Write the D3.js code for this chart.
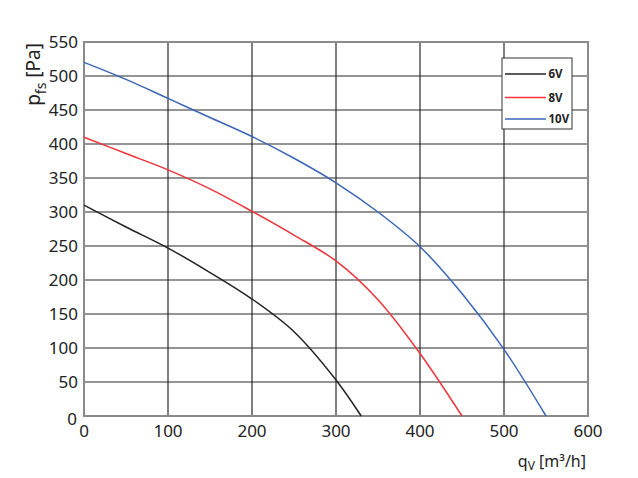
<!DOCTYPE html>
<html>
<head>
<meta charset="utf-8">
<script src="https://cdn.jsdelivr.net/npm/d3@7"></script>
<style>
  html, body { margin: 0; padding: 0; background: #fff; }
  svg { display: block; font-family: "Noto Sans", "Open Sans", sans-serif; }
</style>
</head>
<body>
<svg id="chart" width="638" height="478"></svg>
<script>
// ---- data ----
const xTicks = [0, 100, 200, 300, 400, 500, 600];
const yTicks = [0, 50, 100, 150, 200, 250, 300, 350, 400, 450, 500, 550];
const seriesNames = ["6V", "8V", "10V"];
const seriesColors = ["#222222", "#f0333a", "#3a66b8"];
const q6V  = [0, 50, 100, 150, 200, 250, 300, 330];
const p6V  = [310, 278, 247, 211, 172, 124, 53, 0];
const q8V  = [0, 50, 100, 150, 200, 250, 300, 350, 400, 450];
const p8V  = [410, 386, 362, 334, 301, 266, 228, 171, 92, 0];
const q10V = [0, 50, 100, 150, 200, 250, 300, 350, 400, 450, 500, 550];
const p10V = [520, 495, 467, 439, 411, 379, 343, 300, 249, 180, 98, 0];

const series = [
  { name: seriesNames[0], color: seriesColors[0], q: q6V,  p: p6V },
  { name: seriesNames[1], color: seriesColors[1], q: q8V,  p: p8V },
  { name: seriesNames[2], color: seriesColors[2], q: q10V, p: p10V }
];

const svg = d3.select("#chart");
const m = { left: 84, right: 50, top: 42, bottom: 62 };
const W = 638, H = 478;
const x = d3.scaleLinear().domain([0, 600]).range([m.left, W - m.right]);
const y = d3.scaleLinear().domain([0, 550]).range([H - m.bottom, m.top]);

// grid
const g = svg.append("g");
g.selectAll("line.vx").data(xTicks.slice(1, -1)).enter().append("line")
  .attr("x1", d => x(d)).attr("x2", d => x(d))
  .attr("y1", y(0)).attr("y2", y(550))
  .attr("stroke", "#2a2a2a").attr("stroke-width", 1.2);
g.selectAll("line.hy").data(yTicks.slice(1, -1)).enter().append("line")
  .attr("x1", x(0)).attr("x2", x(600))
  .attr("y1", d => y(d)).attr("y2", d => y(d))
  .attr("stroke", "#2a2a2a").attr("stroke-width", 1.2);
// frame
g.append("rect").attr("x", x(0)).attr("y", y(550))
  .attr("width", x(600) - x(0)).attr("height", y(0) - y(550))
  .attr("fill", "none").attr("stroke", "#8a8a8a").attr("stroke-width", 2);

// curves
const line = d3.line().x(d => x(d[0])).y(d => y(d[1])).curve(d3.curveCatmullRom.alpha(0.5));
series.forEach(s => {
  svg.append("path")
    .datum(s.q.map((q, i) => [q, s.p[i]]))
    .attr("d", line)
    .attr("fill", "none")
    .attr("stroke", s.color)
    .attr("stroke-width", 1.5);
});

// tick labels
svg.selectAll("text.yt").data(yTicks).enter().append("text")
  .attr("x", d => d === 0 ? x(0) - 7 : x(0) - 6)
  .attr("y", d => d === 0 ? y(d) + 3 : y(d))
  .attr("dy", "0.35em")
  .attr("text-anchor", "end")
  .attr("font-size", 17)
  .attr("fill", "#222")
  .text(d => d);
svg.selectAll("text.xt").data(xTicks).enter().append("text")
  .attr("x", d => x(d))
  .attr("y", y(0) + 21)
  .attr("text-anchor", "middle")
  .attr("font-size", 17)
  .attr("fill", "#222")
  .text(d => d);

// axis titles
const yl = svg.append("text")
  .attr("transform", `translate(40,43) rotate(-90)`)
  .attr("text-anchor", "end")
  .attr("font-size", 19)
  .attr("fill", "#222");
yl.append("tspan").text("p");
yl.append("tspan").attr("font-size", 14).attr("dy", 6).text("fs");
yl.append("tspan").attr("dy", -6).text(" [Pa]");

const xl = svg.append("text")
  .attr("x", x(600) - 2).attr("y", 467)
  .attr("text-anchor", "end")
  .attr("font-size", 16)
  .attr("fill", "#222");
xl.append("tspan").text("q");
xl.append("tspan").attr("font-size", 12).attr("dy", 3).text("V");
xl.append("tspan").attr("dy", -3).text(" [m³/h]");

// legend
const lg = svg.append("g").attr("transform", "translate(502,58)");
lg.append("rect").attr("width", 70).attr("height", 71)
  .attr("fill", "#fff").attr("stroke", "#333").attr("stroke-width", 1);
series.forEach((s, i) => {
  const ly = [16, 39.5, 61][i];
  lg.append("line").attr("x1", 3).attr("x2", 44).attr("y1", ly).attr("y2", ly)
    .attr("stroke", s.color).attr("stroke-width", 1.5);
  lg.append("text").attr("x", 46.5).attr("y", ly).attr("dy", "0.38em")
    .attr("font-size", 11.5).attr("font-weight", "bold").attr("fill", "#222")
    .text(s.name);
});
</script>
</body>
</html>
